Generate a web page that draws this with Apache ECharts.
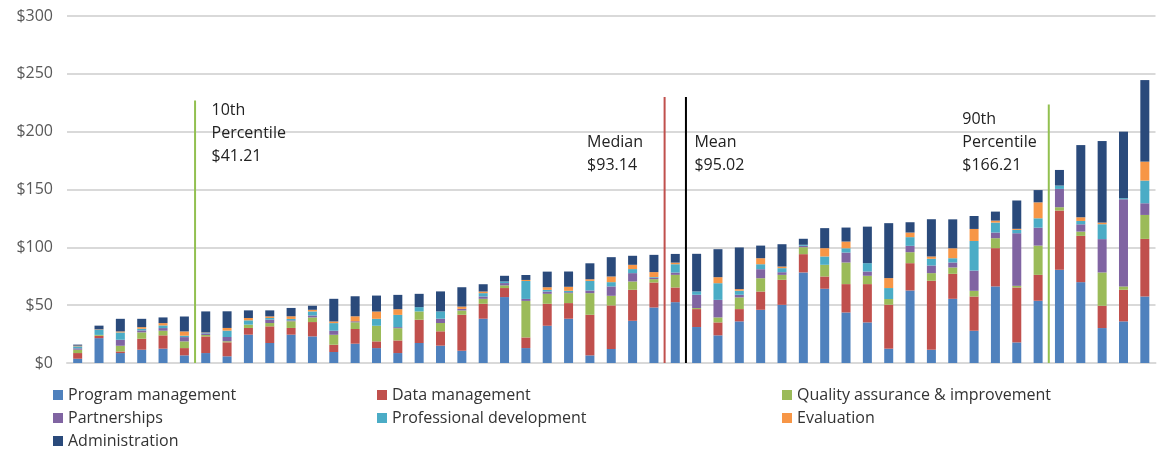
<!DOCTYPE html>
<html>
<head>
<meta charset="utf-8">
<script src="https://cdn.jsdelivr.net/npm/echarts@6/dist/echarts.min.js"></script>
<style>
  html, body { margin: 0; padding: 0; background: #fff; }
  #chart { width: 1157px; height: 456px; }
</style>
</head>
<body>
<div id="chart"></div>
<script>
// one value per bar (51 programs, sorted by total cost)
const seriesNames = ['Program management', 'Data management', 'Quality assurance & improvement',
  'Partnerships', 'Professional development', 'Evaluation', 'Administration'];
const seriesColors = ['#4F81BD', '#C0504D', '#9BBB59', '#8064A2', '#4BACC6', '#F79646', '#2A4A7B'];

const programMgmt = [3.7, 21.5, 8.6, 11.5, 12.4, 6.6, 8.6, 5.8, 24.5, 17.3, 24.5, 23, 9.5, 16.7, 12.9, 8.6, 17.3,
  15, 10.6, 38.3, 57, 12.9, 32.2, 38.3, 6.6, 12.1, 36.5, 48, 52.6, 31.1, 23.9, 36, 46, 50.3, 78.3, 64.2, 43.7,
  35.1, 12.4, 62.7, 11.5, 55.5, 27.9, 66.2, 17.8, 53.8, 80.6, 69.9, 30.2, 36, 57.5];
const dataMgmt = [4.9, 2, 1.4, 9.5, 11.5, 6.3, 14.4, 12.1, 5.8, 14.4, 5.8, 12.4, 6.3, 12.7, 5.8, 10.9, 20.1,
  12.4, 31.1, 12.9, 7.8, 9.2, 19, 13.5, 35.1, 37.7, 26.8, 21.6, 12.7, 15.5, 11.2, 10.6, 15.8, 21.6, 15.8, 10.6, 24.5,
  33.1, 38, 23.6, 59.6, 21.6, 29.6, 33.1, 47.5, 22.4, 51.2, 40, 19.3, 27.3, 49.8];
const quality = [2.9, 0.8, 4.9, 5.5, 4, 5.8, 1.2, 0.9, 2.9, 2.9, 5.8, 4, 8.6, 5.8, 13.5, 10.6, 7.2,
  7.2, 3.7, 4.3, 2.3, 31.6, 8.6, 8.6, 18.7, 8.3, 7.2, 2.9, 10.9, 0.9, 4.3, 10.1, 11.5, 4.3, 6, 10.1, 18.7,
  7.2, 4.9, 9.5, 6.6, 5.5, 4.9, 8.6, 1.4, 25.3, 2.9, 3.7, 28.8, 2.9, 20.7];
const partnerships = [1.2, 0, 5.2, 1.7, 2.3, 3.7, 1.4, 3.7, 0, 2.9, 0.8, 1.7, 3.5, 0.9, 0, 0.9, 0,
  3.7, 1.4, 2, 2, 1.7, 2, 0.8, 2.3, 8.1, 7.2, 1.2, 2, 11.5, 15.2, 2.3, 7.8, 2.3, 1.2, 0, 8.6,
  3.7, 0, 5.5, 6.6, 4.3, 17.5, 4.9, 45.5, 15.5, 15.8, 6.3, 28.8, 75.4, 10.1];
const profDev = [1.7, 4.5, 6.3, 1.4, 2.3, 1.2, 0.5, 5.5, 3.7, 1.4, 1.2, 3.5, 6.6, 0, 6, 10.6, 3.7,
  6.3, 0, 2.9, 1.4, 15.5, 1.4, 1.2, 8.3, 3.7, 3.5, 0.6, 7.2, 2.9, 14.4, 3.5, 4.3, 3.5, 0.9, 7.2, 3.7,
  7.2, 9.5, 7.5, 5.8, 3.7, 25.6, 8.6, 2.9, 8.1, 2.9, 2.9, 12.9, 0.9, 19.6];
const evaluation = [0.6, 0.3, 0.9, 1.4, 2, 3.7, 0.3, 2.3, 2, 1.4, 2.3, 1.4, 1.4, 4.3, 6.3, 4.9, 0,
  0, 2, 1.4, 0, 0.9, 2.3, 3.5, 1.4, 4.9, 3.7, 4.3, 1.4, 0, 5.2, 1.4, 5.2, 1.4, 0, 7.2, 5.8,
  0, 8.6, 4, 2, 8.6, 10.4, 1.7, 0.9, 13.8, 0, 3.2, 1.4, 0, 16.4];
const administration = [0.9, 3.2, 10.9, 7.2, 4.9, 12.9, 18.2, 14.4, 6.6, 5.2, 7.2, 3.5, 19.6, 17.3, 13.8, 12.4, 11.5,
  17.3, 16.7, 6.3, 4.9, 4.3, 13.5, 13.2, 13.8, 16.7, 7.8, 14.9, 7.5, 32.5, 24.2, 36, 10.9, 19.3, 5.2, 17.3, 12.1,
  31.6, 47.5, 8.9, 32.2, 25, 11.2, 7.8, 24.5, 10.6, 13.5, 62.4, 70.5, 57.5, 70.5];
const seriesValues = [programMgmt, dataMgmt, quality, partnerships, profDev, evaluation, administration];
const categories = programMgmt.map((_, i) => 'Program ' + (i + 1));

// reference lines: position between bars (category index), line top, label
const refNames = ['10th Percentile', 'Median', 'Mean', '90th Percentile'];
const refPos = [5.5, 27.5, 28.5, 45.5];
const refTop = [227, 230, 230, 223.5];
const refLabels = ['10th\nPercentile\n$41.21', 'Median\n$93.14', 'Mean\n$95.02', '90th\nPercentile\n$166.21'];
const refColors = ['#92C050', '#C0504D', '#000000', '#92C050'];
const refOffsets = [[16, 33], [-78, 57], [8, 57], [-87, 38]];

const yTicks = [0, 50, 100, 150, 200, 250, 300];

const chart = echarts.init(document.getElementById('chart'));
const font = 'Open Sans';

const barSeries = seriesNames.map((name, k) => ({
  name: name,
  type: 'bar',
  stack: 'cost',
  barWidth: 9,
  itemStyle: { color: seriesColors[k] },
  data: seriesValues[k]
}));

const lineSeries = refNames.map((name, k) => ({
  name: name,
  type: 'line',
  xAxisIndex: 1,
  symbol: 'circle',
  symbolSize: 1,
  itemStyle: { color: 'transparent' },
  lineStyle: { color: refColors[k], width: 2 },
  z: 5,
  data: [
    [refPos[k], 0],
    {
      value: [refPos[k], refTop[k]],
      label: {
        show: true,
        position: 'right',
        distance: 0,
        offset: refOffsets[k],
        formatter: refLabels[k],
        color: '#222',
        fontFamily: font,
        fontSize: 16,
        lineHeight: 23,
        align: 'left'
      }
    }
  ]
}));

const legendText = { fontFamily: font, fontSize: 16, color: '#333', lineHeight: 20 };
const legendBase = { orient: 'vertical', top: 385, padding: 0, itemWidth: 10, itemHeight: 10, itemGap: 3,
  icon: 'rect', textStyle: legendText, selectedMode: false };

chart.setOption({
  animation: false,
  grid: { left: 67, right: 1.5, top: 16, bottom: 93 },
  xAxis: [
    {
      type: 'category',
      data: categories,
      axisLabel: { show: false },
      axisTick: { show: false },
      axisLine: { lineStyle: { color: '#d9d9d9', width: 2 } }
    },
    { type: 'value', min: -0.5, max: categories.length - 0.5, show: false }
  ],
  yAxis: {
    type: 'value',
    min: yTicks[0],
    max: yTicks[yTicks.length - 1],
    interval: yTicks[1] - yTicks[0],
    axisLine: { show: false },
    axisTick: { show: false },
    splitLine: { lineStyle: { color: '#d9d9d9', width: 2 } },
    axisLabel: {
      formatter: '${value}',
      fontFamily: font,
      fontSize: 16,
      color: '#595959',
      margin: 14
    }
  },
  legend: [
    Object.assign({ left: 53, data: [seriesNames[0], seriesNames[3], seriesNames[6]] }, legendBase),
    Object.assign({ left: 377, data: [seriesNames[1], seriesNames[4]] }, legendBase),
    Object.assign({ left: 782, data: [seriesNames[2], seriesNames[5]] }, legendBase)
  ],
  series: barSeries.concat(lineSeries)
});
</script>
</body>
</html>
